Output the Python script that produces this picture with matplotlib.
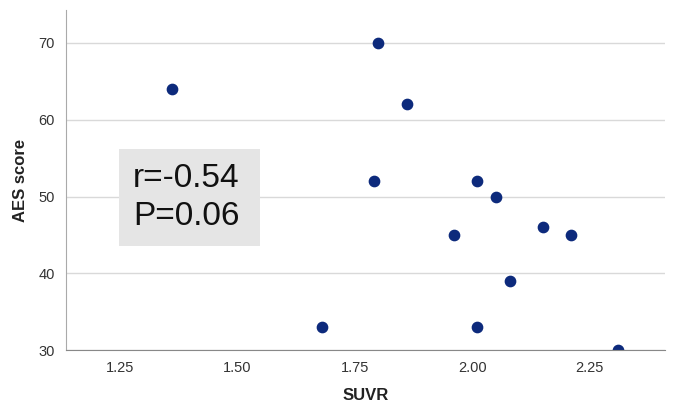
import matplotlib.pyplot as plt
from matplotlib.patches import Rectangle

plt.rcParams['font.family'] = ['Liberation Sans', 'DejaVu Sans']

# SUVR vs AES score
suvr = [1.36, 1.80, 1.86, 1.79, 2.01, 2.05, 1.96, 2.15, 2.21, 2.08, 1.68, 2.01, 2.31]
aes = [64, 70, 62, 52, 52, 50, 45, 46, 45, 39, 33, 33, 30]

x_ticks = [1.25, 1.50, 1.75, 2.00, 2.25]
y_ticks = [30, 40, 50, 60, 70]
stats_text = "r=-0.54\nP=0.06"

fig = plt.figure(figsize=(6.75, 4.12), dpi=100)
ax = fig.add_axes([0.098, 0.150, 0.887, 0.826])

# points sit below the spines so the one at y=30 is cut by the axis
ax.scatter(suvr, aes, s=55, color='#0d2a7c', zorder=2.2, clip_on=True)

ax.set_xlim(1.135, 2.41)
ax.set_ylim(30, 74.3)
ax.set_xticks(x_ticks)
ax.set_xticklabels([f"{t:.2f}" for t in x_ticks])
ax.set_yticks(y_ticks)

ax.grid(axis='y', color='#d9d9d9', linewidth=1)
ax.set_axisbelow(True)
ax.tick_params(length=0, labelsize=10.5, colors='#333333', pad=8)

for side in ['top', 'right']:
    ax.spines[side].set_visible(False)
ax.spines['left'].set_color('#aaaaaa')
ax.spines['bottom'].set_color('#888888')
ax.spines['bottom'].set_zorder(3)

ax.set_xlabel("SUVR", fontsize=12, fontweight='bold', color='#222222', labelpad=9)
ax.set_ylabel("AES score", fontsize=12, fontweight='bold', color='#222222', labelpad=8)

# gray stats box
ax.add_patch(Rectangle((0.0885, 0.306), 0.235, 0.285, transform=ax.transAxes,
                       facecolor='#e5e5e5', edgecolor='none', zorder=2))
ax.text(0.112, 0.4485, stats_text, transform=ax.transAxes, fontsize=24,
        va='center', ha='left', linespacing=1.3, color='#111111', zorder=4)

plt.savefig("out.png", dpi=100)
